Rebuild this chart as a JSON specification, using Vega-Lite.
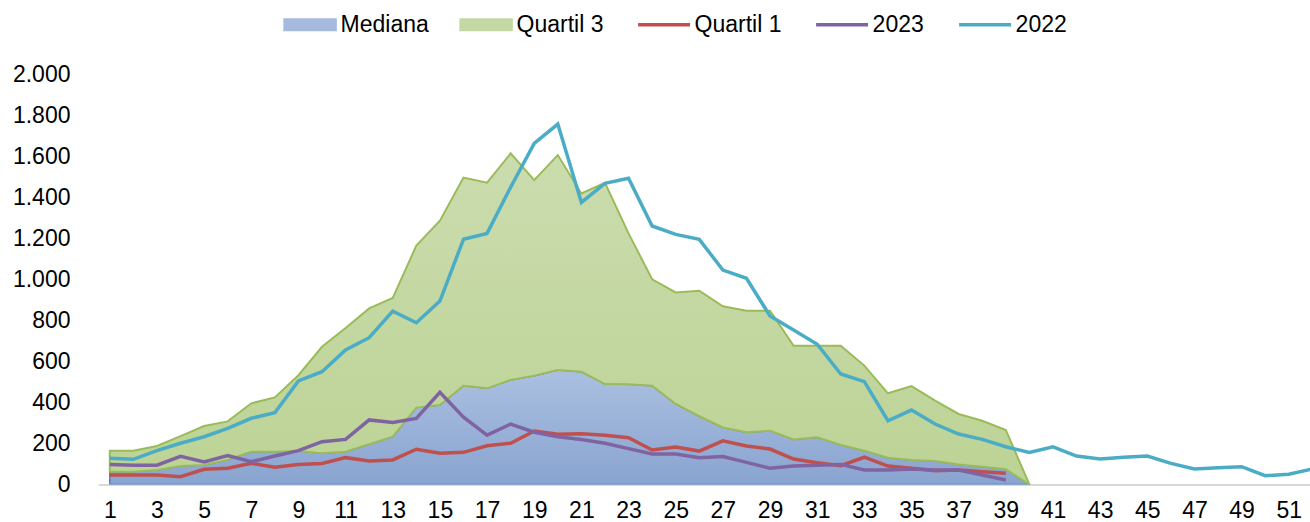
{
  "$schema": "https://vega.github.io/schema/vega-lite/v6.json",
  "width": 1212,
  "height": 410,
  "autosize": "none",
  "padding": {"left": 98, "top": 74.5, "right": 0, "bottom": 37.5},
  "config": {
    "view": {"stroke": null},
    "font": "Liberation Sans"
  },
  "data": {
    "values": [
      {"week": 1, "med": 62, "q3": 165, "q1": 46, "y2023": 98, "y2022": 128},
      {"week": 2, "med": 62, "q3": 165, "q1": 46, "y2023": 94, "y2022": 123},
      {"week": 3, "med": 71, "q3": 188, "q1": 46, "y2023": 94, "y2022": 165},
      {"week": 4, "med": 90, "q3": 236, "q1": 38, "y2023": 137, "y2022": 201},
      {"week": 5, "med": 95, "q3": 285, "q1": 74, "y2023": 110, "y2022": 233},
      {"week": 6, "med": 120, "q3": 308, "q1": 79, "y2023": 141, "y2022": 274},
      {"week": 7, "med": 160, "q3": 396, "q1": 103, "y2023": 111, "y2022": 323},
      {"week": 8, "med": 160, "q3": 425, "q1": 84, "y2023": 139, "y2022": 350},
      {"week": 9, "med": 163, "q3": 533, "q1": 98, "y2023": 165, "y2022": 505},
      {"week": 10, "med": 152, "q3": 672, "q1": 103, "y2023": 209, "y2022": 550},
      {"week": 11, "med": 160, "q3": 763, "q1": 131, "y2023": 220, "y2022": 656},
      {"week": 12, "med": 196, "q3": 859, "q1": 115, "y2023": 315, "y2022": 716},
      {"week": 13, "med": 233, "q3": 910, "q1": 120, "y2023": 303, "y2022": 846},
      {"week": 14, "med": 375, "q3": 1165, "q1": 172, "y2023": 322, "y2022": 789},
      {"week": 15, "med": 388, "q3": 1287, "q1": 152, "y2023": 450, "y2022": 895},
      {"week": 16, "med": 482, "q3": 1497, "q1": 157, "y2023": 328, "y2022": 1196},
      {"week": 17, "med": 469, "q3": 1472, "q1": 189, "y2023": 241, "y2022": 1225},
      {"week": 18, "med": 510, "q3": 1615, "q1": 201, "y2023": 295, "y2022": 1450},
      {"week": 19, "med": 531, "q3": 1485, "q1": 261, "y2023": 255, "y2022": 1664},
      {"week": 20, "med": 559, "q3": 1607, "q1": 245, "y2023": 233, "y2022": 1758},
      {"week": 21, "med": 550, "q3": 1420, "q1": 248, "y2023": 220, "y2022": 1376},
      {"week": 22, "med": 490, "q3": 1472, "q1": 240, "y2023": 201, "y2022": 1469},
      {"week": 23, "med": 489, "q3": 1225, "q1": 228, "y2023": 175, "y2022": 1494},
      {"week": 24, "med": 482, "q3": 1001, "q1": 168, "y2023": 149, "y2022": 1261},
      {"week": 25, "med": 393, "q3": 937, "q1": 183, "y2023": 149, "y2022": 1220},
      {"week": 26, "med": 333, "q3": 945, "q1": 163, "y2023": 130, "y2022": 1196},
      {"week": 27, "med": 278, "q3": 869, "q1": 213, "y2023": 136, "y2022": 1046},
      {"week": 28, "med": 255, "q3": 848, "q1": 188, "y2023": 108, "y2022": 1006},
      {"week": 29, "med": 262, "q3": 848, "q1": 173, "y2023": 79, "y2022": 822},
      {"week": 30, "med": 220, "q3": 677, "q1": 124, "y2023": 90, "y2022": 754},
      {"week": 31, "med": 230, "q3": 677, "q1": 106, "y2023": 94, "y2022": 684},
      {"week": 32, "med": 193, "q3": 677, "q1": 92, "y2023": 98, "y2022": 539},
      {"week": 33, "med": 165, "q3": 580, "q1": 133, "y2023": 71, "y2022": 502},
      {"week": 34, "med": 131, "q3": 445, "q1": 90, "y2023": 71, "y2022": 311},
      {"week": 35, "med": 120, "q3": 480, "q1": 79, "y2023": 76, "y2022": 363},
      {"week": 36, "med": 115, "q3": 409, "q1": 67, "y2023": 71, "y2022": 295},
      {"week": 37, "med": 98, "q3": 344, "q1": 71, "y2023": 71, "y2022": 246},
      {"week": 38, "med": 87, "q3": 311, "q1": 62, "y2023": 46, "y2022": 220},
      {"week": 39, "med": 74, "q3": 266, "q1": 55, "y2023": 22, "y2022": 184},
      {"week": 40, "med": 0, "q3": 0, "q1": null, "y2023": null, "y2022": 156},
      {"week": 41, "med": null, "q3": null, "q1": null, "y2023": null, "y2022": 184},
      {"week": 42, "med": null, "q3": null, "q1": null, "y2023": null, "y2022": 139},
      {"week": 43, "med": null, "q3": null, "q1": null, "y2023": null, "y2022": 124},
      {"week": 44, "med": null, "q3": null, "q1": null, "y2023": null, "y2022": 133},
      {"week": 45, "med": null, "q3": null, "q1": null, "y2023": null, "y2022": 139},
      {"week": 46, "med": null, "q3": null, "q1": null, "y2023": null, "y2022": 103},
      {"week": 47, "med": null, "q3": null, "q1": null, "y2023": null, "y2022": 76},
      {"week": 48, "med": null, "q3": null, "q1": null, "y2023": null, "y2022": 82},
      {"week": 49, "med": null, "q3": null, "q1": null, "y2023": null, "y2022": 87},
      {"week": 50, "med": null, "q3": null, "q1": null, "y2023": null, "y2022": 43},
      {"week": 51, "med": null, "q3": null, "q1": null, "y2023": null, "y2022": 50},
      {"week": 52, "med": null, "q3": null, "q1": null, "y2023": null, "y2022": 76}
    ]
  },
  "encoding": {
    "x": {
      "field": "week",
      "type": "quantitative",
      "scale": {"domain": [0.5, 51.9], "nice": false, "zero": false},
      "axis": {
        "title": null,
        "values": [1,3,5,7,9,11,13,15,17,19,21,23,25,27,29,31,33,35,37,39,41,43,45,47,49,51],
        "grid": false,
        "ticks": false,
        "domain": true,
        "domainColor": "#d9d9d9",
        "domainWidth": 2,
        "labelFontSize": 23,
        "labelColor": "#000000",
        "labelPadding": 15,
        "labelFlush": false,
        "labelOverlap": false,
        "labelBound": false,
        "labelFont": "Liberation Sans"
      }
    }
  },
  "layer": [
    {
      "mark": {
        "type": "area",
        "clip": true,
        "stroke": "#4f81bd",
        "strokeWidth": 1.5,
        "fill": {
          "gradient": "linear", "x1": 0, "y1": 0, "x2": 0, "y2": 1,
          "stops": [{"offset": 0, "color": "#abc0e1"}, {"offset": 1, "color": "#89a4d0"}]
        }
      },
      "encoding": {
        "y": {
          "field": "med",
          "type": "quantitative",
          "scale": {"domain": [0, 2000], "nice": false},
          "axis": {
            "title": null,
            "values": [0,200,400,600,800,1000,1200,1400,1600,1800,2000],
            "grid": false,
            "ticks": false,
            "domain": false,
            "labelFontSize": 23,
            "labelColor": "#000000",
            "labelPadding": 28,
            "labelFont": "Liberation Sans",
            "labelExpr": "replace(format(datum.value, ','), ',', '.')"
          }
        }
      }
    },
    {
      "mark": {
        "type": "area",
        "clip": true,
        "stroke": "#9bbb59",
        "strokeWidth": 2,
        "fill": {
          "gradient": "linear", "x1": 0, "y1": 0, "x2": 0, "y2": 1,
          "stops": [{"offset": 0, "color": "#cbdcae"}, {"offset": 1, "color": "#bcd395"}]
        }
      },
      "encoding": {
        "y": {"field": "q3", "type": "quantitative"},
        "y2": {"field": "med"}
      }
    },
    {
      "mark": {"type": "line", "clip": true, "strokeWidth": 3.5},
      "encoding": {
        "y": {"field": "q1", "type": "quantitative"},
        "color": {
          "datum": "Quartil 1",
          "type": "nominal",
          "scale": {
            "domain": ["Mediana", "Quartil 3", "Quartil 1", "2023", "2022"],
            "range": ["#a5badd", "#c4d8a3", "#c0504d", "#8064a2", "#4bacc6"]
          },
          "legend": {
            "title": null,
            "orient": "none",
            "legendX": 200.6,
            "legendY": -61.5,
            "direction": "horizontal",
            "columns": 5,
            "symbolType": "stroke",
            "symbolSize": 2704,
            "symbolStrokeWidth": 1.5,
            "labelFontSize": 23,
            "labelFont": "Liberation Sans",
            "labelColor": "#000000",
            "labelOffset": 19,
            "columnPadding": 27,
            "encode": {
              "symbols": {
                "update": {
                  "shape": {"signal": "datum.value === 'Mediana' || datum.value === 'Quartil 3' ? 'M-1,-0.22H1V0.22H-1Z' : 'stroke'"},
                  "fill": {"signal": "datum.value === 'Mediana' ? '#a5badd' : datum.value === 'Quartil 3' ? '#c4d8a3' : 'transparent'"},
                  "stroke": {"signal": "datum.value === 'Mediana' ? '#4f81bd' : datum.value === 'Quartil 3' ? '#9bbb59' : datum.value === 'Quartil 1' ? '#c0504d' : datum.value === '2023' ? '#8064a2' : '#4bacc6'"},
                  "strokeWidth": {"signal": "datum.value === 'Mediana' || datum.value === 'Quartil 3' ? 1.5 : 3.5"},
                  "opacity": {"value": 1}
                }
              }
            }
          }
        }
      }
    },
    {
      "mark": {"type": "line", "clip": true, "strokeWidth": 3.5},
      "encoding": {
        "y": {"field": "y2023", "type": "quantitative"},
        "color": {"datum": "2023", "type": "nominal"}
      }
    },
    {
      "mark": {"type": "line", "clip": true, "strokeWidth": 3.5},
      "encoding": {
        "y": {"field": "y2022", "type": "quantitative"},
        "color": {"datum": "2022", "type": "nominal"}
      }
    }
  ]
}
